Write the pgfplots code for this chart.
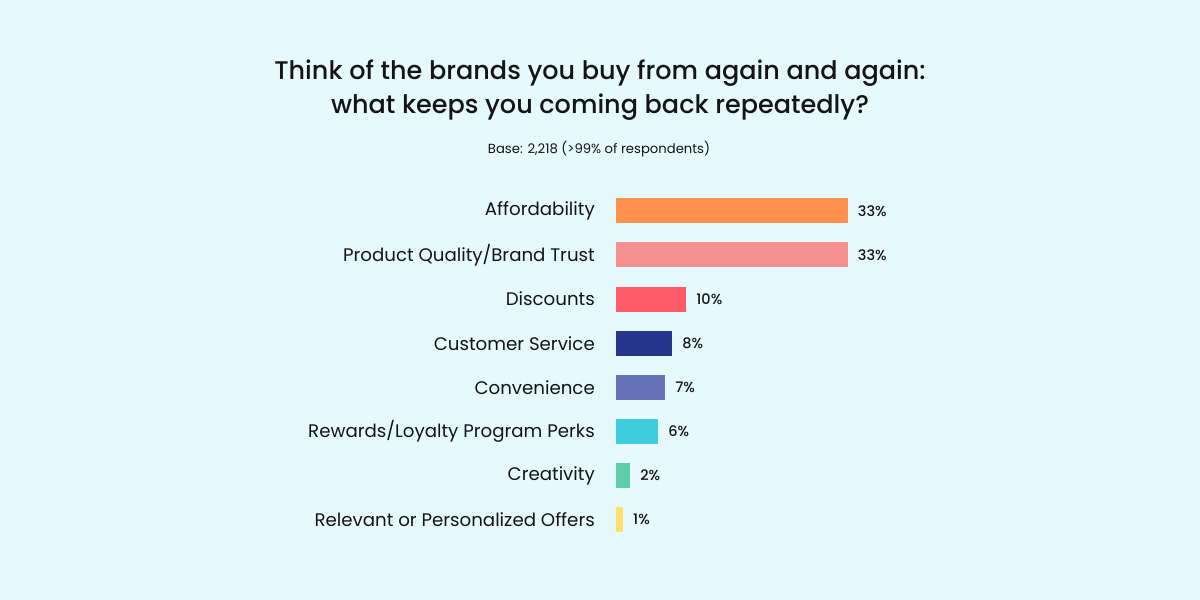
\documentclass[border=0pt]{standalone}
\usepackage{fontspec}
\setmainfont{Poppins}
\newfontfamily\medfont{Poppins Medium}
\usepackage{pgfplots}
\pgfplotsset{compat=1.18}
\definecolor{bg}{HTML}{E6FAFE}
\definecolor{txt}{HTML}{141414}
\definecolor{c1}{HTML}{FF914D}
\definecolor{c2}{HTML}{F79190}
\definecolor{c3}{HTML}{FF5A67}
\definecolor{c4}{HTML}{27348B}
\definecolor{c5}{HTML}{6773B8}
\definecolor{c6}{HTML}{3ECDDC}
\definecolor{c7}{HTML}{5ECDAB}
\definecolor{c8}{HTML}{FDE06B}
\begin{document}
\begin{tikzpicture}[x=1bp,y=1bp]
\fill[bg] (0,0) rectangle (1200,600);
\useasboundingbox (0,0) rectangle (1200,600);
\node[anchor=base,text=txt,font=\medfont\fontsize{25.5bp}{28bp}\selectfont] at (600,520.7) {Think of the brands you buy from again and again:};
\node[anchor=base,text=txt,font=\medfont\fontsize{25.5bp}{28bp}\selectfont] at (600,486.7) {what keeps you coming back repeatedly?};
\node[anchor=base,text=txt,font=\fontsize{13.2bp}{15bp}\selectfont] at (599,446) {Base: 2,218 (>99\% of respondents)};
\begin{axis}[
  at={(616bp,58.2bp)}, anchor=south west,
  scale only axis, width=231.7bp, height=353bp,
  xmin=0, xmax=33, ymin=-0.5, ymax=7.5, y dir=reverse,
  enlargelimits=false, clip=false,
  xbar, bar width=25bp, bar shift=0pt,
  axis line style={draw=none}, tick style={draw=none}, major tick length=0pt,
  xtick=\empty,
  ytick={0,...,7},
  yticklabels={Affordability,Product Quality/Brand Trust,Discounts,Customer Service,Convenience,Rewards/Loyalty Program Perks,Creativity,Relevant or Personalized Offers},
  yticklabel style={anchor=east,inner sep=0pt,xshift=-21bp,text=txt,font=\fontsize{18.2bp}{20bp}\selectfont},
  point meta=x,
  /pgf/number format/assume math mode=true,
  nodes near coords={\pgfmathprintnumber{\pgfplotspointmeta}\%},
  nodes near coords style={anchor=west,inner sep=0pt,xshift=10bp,text=txt,font=\medfont\fontsize{14.5bp}{16bp}\selectfont},
]
\addplot[draw=none,fill=c1] coordinates {(33,0)};
\addplot[draw=none,fill=c2] coordinates {(33,1)};
\addplot[draw=none,fill=c3] coordinates {(10,2)};
\addplot[draw=none,fill=c4] coordinates {(8,3)};
\addplot[draw=none,fill=c5] coordinates {(7,4)};
\addplot[draw=none,fill=c6] coordinates {(6,5)};
\addplot[draw=none,fill=c7] coordinates {(2,6)};
\addplot[draw=none,fill=c8] coordinates {(1,7)};
\end{axis}
\end{tikzpicture}
\end{document}
